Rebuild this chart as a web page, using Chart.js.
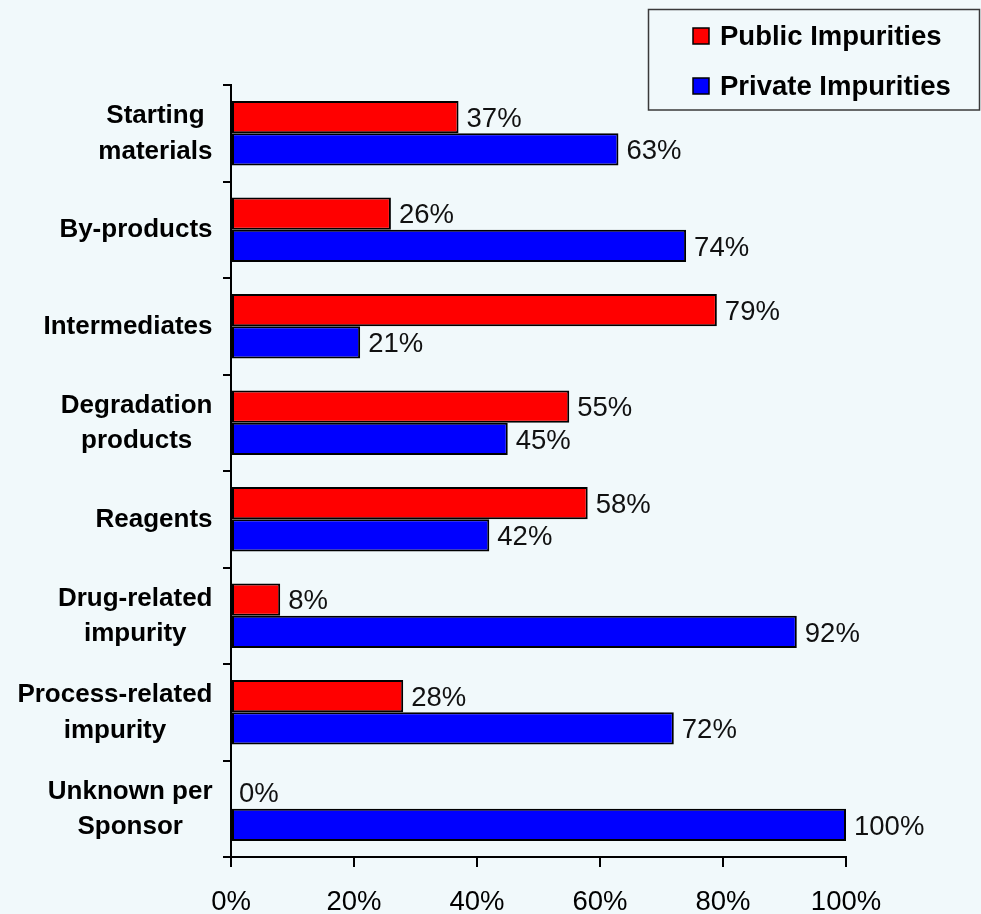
<!DOCTYPE html>
<html>
<head>
<meta charset="utf-8">
<title>Public vs Private Impurities</title>
<script src="https://cdn.jsdelivr.net/npm/chart.js@4/dist/chart.umd.min.js"></script>
<style>
  html, body { margin: 0; padding: 0; background: #F1F9FB; }
  #wrap { width: 981px; height: 914px; }
  canvas { display: block; }
</style>
</head>
<body>
<div id="wrap"><canvas id="chart" width="981" height="914"></canvas></div>
<script>
// Impurity categories (multi-line labels) and the share of each reported as public / private
const categories = [
  ['Starting', 'materials'],
  ['By-products'],
  ['Intermediates'],
  ['Degradation', 'products'],
  ['Reagents'],
  ['Drug-related', 'impurity'],
  ['Process-related', 'impurity'],
  ['Unknown per', 'Sponsor']
];
const publicImpurities  = [37, 26, 79, 55, 58, 8, 28, 0];
const privateImpurities = [63, 74, 21, 45, 42, 92, 72, 100];
const xTicks = [0, 20, 40, 60, 80, 100];

const FONT = '"Liberation Sans", Arial, Helvetica, sans-serif';
Chart.defaults.font.family = FONT;
Chart.defaults.color = '#000';

// Category labels: each block right-aligned to the axis, lines centred inside the block
const categoryLabels = {
  id: 'categoryLabels',
  afterDraw(chart) {
    const y = chart.scales.y;
    const ctx = chart.ctx;
    const right = 212.5, lineGap = 35.5;
    ctx.save();
    ctx.font = 'bold 26px ' + FONT;
    ctx.fillStyle = '#000';
    ctx.textAlign = 'center';
    ctx.textBaseline = 'alphabetic';
    categories.forEach((lines, i) => {
      const cy = y.getPixelForTick(i);
      const w = Math.max(...lines.map(l => ctx.measureText(l).width));
      const cx = right - w / 2;
      lines.forEach((line, j) => {
        ctx.fillText(line, cx, cy + (j - (lines.length - 1) / 2) * lineGap + 7.5);
      });
    });
    ctx.restore();
  }
};

// Percentage labels placed just past the end of every bar
const valueLabels = {
  id: 'valueLabels',
  afterDatasetsDraw(chart) {
    const ctx = chart.ctx;
    ctx.save();
    ctx.font = '27.5px ' + FONT;
    ctx.fillStyle = '#111';
    ctx.textAlign = 'left';
    ctx.textBaseline = 'alphabetic';
    chart.data.datasets.forEach((ds, di) => {
      const meta = chart.getDatasetMeta(di);
      meta.data.forEach((bar, i) => {
        ctx.fillText(ds.data[i] + '%', bar.x + 8, bar.y + 9.7);
      });
    });
    ctx.restore();
  }
};

// Boxed legend in the top-right corner
const boxedLegend = {
  id: 'boxedLegend',
  afterDraw(chart) {
    const ctx = chart.ctx;
    ctx.save();
    ctx.lineWidth = 1.5;
    ctx.strokeStyle = '#3a3a3a';
    ctx.strokeRect(648.5, 9.5, 331, 100.5);
    ctx.font = 'bold 27.5px ' + FONT;
    ctx.textBaseline = 'alphabetic';
    ctx.textAlign = 'left';
    chart.data.datasets.forEach((ds, i) => {
      const top = 28 + i * 50;
      ctx.fillStyle = ds.backgroundColor;
      ctx.fillRect(693, top, 16, 16);
      ctx.strokeStyle = '#000';
      ctx.strokeRect(693, top, 16, 16);
      ctx.fillStyle = '#000';
      ctx.fillText(ds.label, 720, top + 17);
    });
    ctx.restore();
  }
};

new Chart(document.getElementById('chart'), {
  type: 'bar',
  data: {
    labels: categories,
    datasets: [
      {
        label: 'Public Impurities',
        data: publicImpurities,
        backgroundColor: '#FF0000',
        borderColor: '#000',
        borderWidth: ctx => (ctx.raw === 0 ? 0 : 2),
        borderSkipped: false
      },
      {
        label: 'Private Impurities',
        data: privateImpurities,
        backgroundColor: '#0000FF',
        borderColor: '#000',
        borderWidth: ctx => (ctx.raw === 0 ? 0 : 2),
        borderSkipped: false
      }
    ]
  },
  options: {
    indexAxis: 'y',
    responsive: false,
    animation: false,
    categoryPercentage: 0.67,
    barPercentage: 1.0,
    layout: { padding: { left: 0, right: 135, top: 85, bottom: 0 } },
    plugins: {
      legend: { display: false },
      tooltip: { enabled: false }
    },
    scales: {
      x: {
        type: 'linear',
        min: xTicks[0],
        max: xTicks[xTicks.length - 1],
        afterBuildTicks: scale => { scale.ticks = xTicks.map(v => ({ value: v })); },
        afterFit: scale => { scale.height = 57; },
        grid: {
          drawOnChartArea: false,
          drawTicks: true,
          tickLength: 10,
          color: '#000',
          lineWidth: 2
        },
        border: { display: true, color: '#000', width: 2 },
        ticks: {
          font: { size: 27.5 },
          color: '#000',
          padding: 19,
          maxRotation: 0,
          callback: v => v + '%'
        }
      },
      y: {
        type: 'category',
        afterFit: scale => { scale.width = 231; },
        grid: {
          offset: true,
          drawOnChartArea: false,
          drawTicks: true,
          tickLength: 8,
          color: '#000',
          lineWidth: 2
        },
        border: { display: true, color: '#000', width: 2 },
        ticks: { display: false }
      }
    }
  },
  plugins: [categoryLabels, valueLabels, boxedLegend]
});
</script>
</body>
</html>
